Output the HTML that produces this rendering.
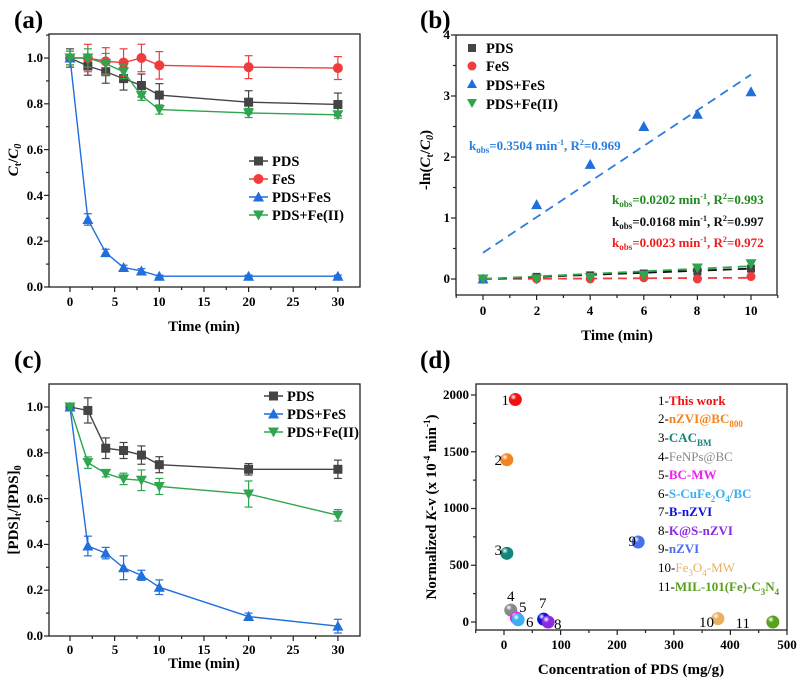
<!DOCTYPE html>
<html><head><meta charset="utf-8"><style>
body{margin:0;background:#fff;width:799px;height:678px;overflow:hidden}
svg{display:block;font-family:"Liberation Serif",serif;font-weight:bold}
</style></head><body>
<svg id="s" width="799" height="678" viewBox="0 0 799 678" xmlns="http://www.w3.org/2000/svg">
<rect width="799" height="678" fill="#fff"/>
<g font-size="25"><text x="14" y="28">(a)</text><text x="420" y="28">(b)</text><text x="14" y="368">(c)</text><text x="420" y="368">(d)</text></g>
<g fill="none" stroke="#222" stroke-width="1.3">
<rect x="49" y="34" width="311" height="253"/>
<rect x="456" y="35" width="321" height="260"/>
<rect x="49" y="384" width="311" height="252"/>
<rect x="476" y="384" width="311" height="246"/>
</g>
<g font-size="13" text-anchor="middle">
<text x="70" y="306">0</text><text x="115" y="306">5</text><text x="159" y="306">10</text><text x="204" y="306">15</text><text x="249" y="306">20</text><text x="293" y="306">25</text><text x="338" y="306">30</text>
<text x="70" y="654">0</text><text x="115" y="654">5</text><text x="159" y="654">10</text><text x="204" y="654">15</text><text x="249" y="654">20</text><text x="293" y="654">25</text><text x="338" y="654">30</text>
<text x="483" y="315">0</text><text x="537" y="315">2</text><text x="590" y="315">4</text><text x="644" y="315">6</text><text x="697" y="315">8</text><text x="751" y="315">10</text>
<text x="504" y="649">0</text><text x="561" y="649">100</text><text x="617" y="649">200</text><text x="674" y="649">300</text><text x="730" y="649">400</text><text x="787" y="649">500</text>
</g>
<g font-size="13" text-anchor="end">
<text x="43" y="291">0.0</text><text x="43" y="245">0.2</text><text x="43" y="200">0.4</text><text x="43" y="154">0.6</text><text x="43" y="108">0.8</text><text x="43" y="62">1.0</text>
<text x="43" y="640">0.0</text><text x="43" y="594">0.2</text><text x="43" y="548">0.4</text><text x="43" y="503">0.6</text><text x="43" y="457">0.8</text><text x="43" y="411">1.0</text>
<text x="450" y="283">0</text><text x="450" y="222">1</text><text x="450" y="161">2</text><text x="450" y="100">3</text><text x="450" y="39">4</text>
<text x="469" y="626">0</text><text x="469" y="569">500</text><text x="469" y="512">1000</text><text x="469" y="456">1500</text><text x="469" y="399">2000</text>
</g>
<g font-size="15" text-anchor="middle">
<text x="204" y="331">Time (min)</text>
<text x="617" y="340">Time (min)</text>
<text x="204" y="668">Time (min)</text>
<text x="631" y="674">Concentration of PDS (mg/g)</text>
<text transform="translate(18,160) rotate(-90)"><tspan font-style="italic">C</tspan><tspan font-size="10" dy="3">t</tspan><tspan dy="-3">/</tspan><tspan font-style="italic">C</tspan><tspan font-size="10" dy="3" font-style="italic">0</tspan></text>
<text transform="translate(430,160) rotate(-90)">-ln(<tspan font-style="italic">C</tspan><tspan font-size="10" dy="3">t</tspan><tspan dy="-3">/</tspan><tspan font-style="italic">C</tspan><tspan font-size="10" dy="3" font-style="italic">0</tspan><tspan dy="-3">)</tspan></text>
<text transform="translate(18,510) rotate(-90)">[PDS]<tspan font-size="10" dy="3">t</tspan><tspan dy="-3">/[PDS]</tspan><tspan font-size="10" dy="3">0</tspan></text>
<text transform="translate(436,507) rotate(-90)">Normalized <tspan font-style="italic">K</tspan>-v (x 10<tspan font-size="9" dy="-6">-4</tspan><tspan dy="6"> min</tspan><tspan font-size="9" dy="-6">-1</tspan><tspan dy="6">)</tspan></text>
</g>
<g id="plots"></g>
<g font-size="14.5">
<text x="272" y="166">PDS</text><text x="272" y="184">FeS</text><text x="272" y="202">PDS+FeS</text><text x="272" y="220">PDS+Fe(II)</text>
<text x="486" y="53">PDS</text><text x="486" y="71">FeS</text><text x="486" y="90">PDS+FeS</text><text x="486" y="109">PDS+Fe(II)</text>
<text x="287" y="401">PDS</text><text x="287" y="419">PDS+FeS</text><text x="287" y="437">PDS+Fe(II)</text>
</g>
<g font-size="13">
<text x="469" y="150" fill="#2a7ee0">k<tspan font-size="9" dy="3">obs</tspan><tspan dy="-3">=0.3504 min</tspan><tspan font-size="8" dy="-5">-1</tspan><tspan dy="5">, R</tspan><tspan font-size="8" dy="-5">2</tspan><tspan dy="5">=0.969</tspan></text>
<text x="612" y="204" fill="#1e8a1e">k<tspan font-size="9" dy="3">obs</tspan><tspan dy="-3">=0.0202 min</tspan><tspan font-size="8" dy="-5">-1</tspan><tspan dy="5">, R</tspan><tspan font-size="8" dy="-5">2</tspan><tspan dy="5">=0.993</tspan></text>
<text x="612" y="226" fill="#111">k<tspan font-size="9" dy="3">obs</tspan><tspan dy="-3">=0.0168 min</tspan><tspan font-size="8" dy="-5">-1</tspan><tspan dy="5">, R</tspan><tspan font-size="8" dy="-5">2</tspan><tspan dy="5">=0.997</tspan></text>
<text x="612" y="247" fill="#f01c1c">k<tspan font-size="9" dy="3">obs</tspan><tspan dy="-3">=0.0023 min</tspan><tspan font-size="8" dy="-5">-1</tspan><tspan dy="5">, R</tspan><tspan font-size="8" dy="-5">2</tspan><tspan dy="5">=0.972</tspan></text>
</g>
<g font-size="13" font-weight="normal">
<text x="658" y="405">1-<tspan font-weight="bold" fill="#f01010">This work</tspan></text>
<text x="658" y="423">2-<tspan font-weight="bold" fill="#f5841f">nZVI@BC<tspan font-size="9" dy="4">800</tspan></tspan></text>
<text x="658" y="442">3-<tspan font-weight="bold" fill="#13857a">CAC<tspan font-size="9" dy="4">BM</tspan></tspan></text>
<text x="658" y="461">4-<tspan fill="#888">FeNPs@BC</tspan></text>
<text x="658" y="479">5-<tspan font-weight="bold" fill="#f020f0">BC-MW</tspan></text>
<text x="658" y="498">6-<tspan font-weight="bold" fill="#3bb0f0">S-CuFe<tspan font-size="9" dy="4">2</tspan><tspan dy="-4">O</tspan><tspan font-size="9" dy="4">4</tspan><tspan dy="-4">/BC</tspan></tspan></text>
<text x="658" y="516">7-<tspan font-weight="bold" fill="#1010e0">B-nZVI</tspan></text>
<text x="658" y="535">8-<tspan font-weight="bold" fill="#8a2be2">K@S-nZVI</tspan></text>
<text x="658" y="553">9-<tspan font-weight="bold" fill="#4a6ef0">nZVI</tspan></text>
<text x="658" y="572">10-<tspan fill="#e8b060">Fe<tspan font-size="9" dy="4">3</tspan><tspan dy="-4">O</tspan><tspan font-size="9" dy="4">4</tspan><tspan dy="-4">-MW</tspan></tspan></text>
<text x="658" y="591">11-<tspan font-weight="bold" fill="#5aa020">MIL-101(Fe)-C<tspan font-size="9" dy="4">3</tspan><tspan dy="-4">N</tspan><tspan font-size="9" dy="4">4</tspan></tspan></text>
</g>
<g font-size="15" font-weight="normal" text-anchor="end">
<text x="509" y="405">1</text><text x="502" y="465">2</text><text x="502" y="555">3</text>
<text x="636" y="546">9</text>
<text x="714" y="627">10</text><text x="750" y="628">11</text>
</g>
<g font-size="15" font-weight="normal">
<text x="507" y="601">4</text><text x="519" y="612">5</text><text x="526" y="627">6</text><text x="539" y="608">7</text><text x="554" y="629">8</text>
</g>
</svg>
<script>
var NS="http://www.w3.org/2000/svg",P=document.getElementById("plots");
function el(t,a){var e=document.createElementNS(NS,t);for(var k in a)e.setAttribute(k,a[k]);P.appendChild(e);return e}
function mk(type,x,y,c,r){r=r||4.5;
 if(type=="s")el("rect",{x:x-r,y:y-r,width:2*r,height:2*r,fill:c});
 else if(type=="c")el("circle",{cx:x,cy:y,r:r+0.5,fill:c});
 else if(type=="t")el("polygon",{points:(x-r-1)+","+(y+r)+" "+(x+r+1)+","+(y+r)+" "+x+","+(y-r-1),fill:c});
 else el("polygon",{points:(x-r-1)+","+(y-r)+" "+(x+r+1)+","+(y-r)+" "+x+","+(y+r+1),fill:c});}
var GR="#444",RD="#f03c3c",BL="#1f6fdc",GN="#2ea54f";
function tk(x1,y1,x2,y2){el("line",{x1:x1,y1:y1,x2:x2,y2:y2,stroke:"#222","stroke-width":1.2})}
function xt(X,b,vals,minor){vals.forEach(function(v){tk(X(v),b,X(v),b+5)});minor.forEach(function(v){tk(X(v),b,X(v),b+3)})}
function yt(Y,l,vals,minor){vals.forEach(function(v){tk(l,Y(v),l-5,Y(v))});minor.forEach(function(v){tk(l,Y(v),l-3,Y(v))})}
var T=[0,2,4,6,8,10,20,30];
var Xa=function(t){return 70+8.93*t};
var Ya=function(v){return 287-229*v},Yc=function(v){return 636-229*v};
var Xb=function(t){return 483+26.8*t},Yb=function(v){return 279-61*v};
var Xd=function(c){return 504+0.566*c},Yd=function(v){return 622-0.1135*v};
xt(Xa,287,[0,5,10,15,20,25,30],[2.5,7.5,12.5,17.5,22.5,27.5]);
xt(Xa,636,[0,5,10,15,20,25,30],[2.5,7.5,12.5,17.5,22.5,27.5]);
yt(Ya,49,[0,.2,.4,.6,.8,1],[.1,.3,.5,.7,.9,1.1]);
yt(Yc,49,[0,.2,.4,.6,.8,1],[.1,.3,.5,.7,.9]);
xt(Xb,295,[0,2,4,6,8,10],[1,3,5,7,9,-1,11]);
yt(Yb,456,[0,1,2,3,4],[.5,1.5,2.5,3.5]);
xt(Xd,630,[0,100,200,300,400,500],[50,150,250,350,450,-50]);
yt(Yd,476,[0,500,1000,1500,2000],[250,750,1250,1750]);
function series(X,Y,ys,es,c,m){
 var pts=T.map(function(t,i){return X(t)+","+Y(ys[i])}).join(" ");
 el("polyline",{points:pts,fill:"none",stroke:c,"stroke-width":1.4});
 T.forEach(function(t,i){var e=es[i];if(e){var x=X(t);el("line",{x1:x,y1:Y(ys[i]-e),x2:x,y2:Y(ys[i]+e),stroke:c,"stroke-width":1.2});
 el("line",{x1:x-4,y1:Y(ys[i]-e),x2:x+4,y2:Y(ys[i]-e),stroke:c,"stroke-width":1.2});el("line",{x1:x-4,y1:Y(ys[i]+e),x2:x+4,y2:Y(ys[i]+e),stroke:c,"stroke-width":1.2});}
 mk(m,X(t),Y(ys[i]),c);});}
series(Xa,Ya,[1,.965,.94,.91,.88,.838,.807,.797],[.04,.04,.05,.05,.05,.05,.05,.05],GR,"s");
series(Xa,Ya,[1,1,.985,.98,1,.968,.96,.956],[.03,.06,.06,.06,.06,.06,.05,.05],RD,"c");
series(Xa,Ya,[1,.295,.15,.085,.07,.047,.047,.047],[.01,.025,.015,.01,.01,.005,.005,.005],BL,"t");
series(Xa,Ya,[1,1,.975,.94,.835,.775,.76,.752],[.03,.04,.045,.03,.02,.02,.02,.015],GN,"v");
series(Xa,Yc,[1,.985,.82,.81,.79,.748,.728,.728],[0,.055,.045,.035,.04,.035,.025,.04],GR,"s");
series(Xa,Yc,[1,.393,.362,.298,.265,.213,.085,.043],[0,.043,.025,.052,.022,.032,.015,.03],BL,"t");
series(Xa,Yc,[1,.757,.71,.686,.68,.653,.62,.527],[0,.025,.015,.025,.045,.035,.057,.025],GN,"v");
function lg(x,y,c,m){el("line",{x1:x,y1:y,x2:x+19,y2:y,stroke:c,"stroke-width":1.4});mk(m,x+9.5,y,c)}
lg(249,161,GR,"s");lg(249,179,RD,"c");lg(249,197,BL,"t");lg(249,215,GN,"v");
lg(264,396,GR,"s");lg(264,414,BL,"t");lg(264,432,GN,"v");
mk("s",472,48,GR,4);mk("c",472,66,RD,4);mk("t",472,84,BL,4);mk("v",472,103,GN,4);
function dl(x1,y1,x2,y2,c){el("line",{x1:x1,y1:y1,x2:x2,y2:y2,stroke:c,"stroke-width":1.8,"stroke-dasharray":"9,6"})}
dl(Xb(0),Yb(0),Xb(10),Yb(0.02),RD);
dl(Xb(0),Yb(0),Xb(10),Yb(0.17),"#111");
dl(Xb(0),Yb(0),Xb(10),Yb(0.21),GN);
dl(Xb(0),Yb(0.43),Xb(10),Yb(3.35),"#2a7ee0");
var tb=[0,2,4,6,8,10];
[0,.035,.06,.09,.12,.17].forEach(function(v,i){mk("s",Xb(tb[i]),Yb(v),GR,4)});
[0,0,0,.02,0,.04].forEach(function(v,i){mk("c",Xb(tb[i]),Yb(v),RD,4)});
[0,1.22,1.88,2.5,2.7,3.07].forEach(function(v,i){mk("t",Xb(tb[i]),Yb(v),BL,4.5)});
[0,0,.025,.06,.18,.25].forEach(function(v,i){mk("v",Xb(tb[i]),Yb(v),GN,4.5)});
var D=[[20,1960,"#f01010"],[5,1430,"#f5841f"],[5,605,"#13857a"],[12,105,"#888"],[22,35,"#f020f0"],[25,20,"#3bb0f0"],[70,25,"#1010e0"],[78,0,"#8a2be2"],[237,705,"#4a6ef0"],[378,30,"#e8b060"],[475,0,"#5aa020"]];
var defs=el("defs",{});
D.forEach(function(d,i){var g=document.createElementNS(NS,"radialGradient");g.setAttribute("id","g"+i);g.setAttribute("cx","0.35");g.setAttribute("cy","0.3");g.setAttribute("r","0.7");
 g.innerHTML='<stop offset="0" stop-color="#fff"/><stop offset="0.35" stop-color="'+d[2]+'"/><stop offset="1" stop-color="'+d[2]+'"/>';defs.appendChild(g);
 el("circle",{cx:Xd(d[0]),cy:Yd(d[1]),r:6.5,fill:"url(#g"+i+")"});});
</script>
</body></html>
